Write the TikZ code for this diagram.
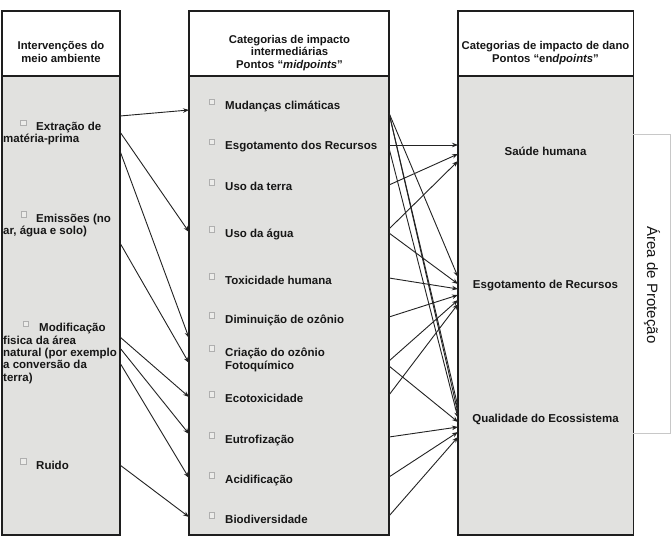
\documentclass[tikz,border=0pt]{standalone}
\usepackage{fontspec}
\setmainfont{Liberation Sans}
\usetikzlibrary{arrows.meta}
\definecolor{boxline}{RGB}{30,30,30}
\definecolor{bodyfill}{RGB}{225,225,223}
\definecolor{ink}{RGB}{22,22,22}
\definecolor{arrowc}{RGB}{35,35,35}
\definecolor{chkline}{RGB}{175,175,175}
\definecolor{chkfill}{RGB}{236,236,234}
\definecolor{areal}{RGB}{200,200,200}
\newcommand{\lstk}[1]{\begin{tabular}[t]{@{}l@{}}#1\end{tabular}}
\newcommand{\cstk}[1]{\begin{tabular}[t]{@{}c@{}}#1\end{tabular}}
\tikzset{
  hdr/.style={draw=boxline, line width=1.6pt, fill=white, anchor=north west, inner sep=0pt, outer sep=0pt},
  bdy/.style={draw=boxline, line width=1.6pt, fill=bodyfill, anchor=north west, inner sep=0pt, outer sep=0pt},
  htxt/.style={font=\fontsize{11.3}{12.4}\selectfont\bfseries, text=ink, inner sep=0pt, anchor=base},
  ltxt/.style={font=\fontsize{11.5}{12.4}\selectfont\bfseries, text=ink, inner sep=0pt, anchor=base west},
  mtxt/.style={font=\fontsize{11.5}{13}\selectfont\bfseries, text=ink, inner sep=0pt, anchor=base west},
  rtxt/.style={font=\fontsize{11.5}{13}\selectfont\bfseries, text=ink, inner sep=0pt, anchor=base},
  chk/.style={draw=chkline, fill=chkfill, line width=0.5pt},
  arr/.style={draw=arrowc, line width=0.9pt, -{Stealth[length=6pt,width=4.5pt]}},
  arealine/.style={draw=areal, line width=1pt}
}
\begin{document}
\begin{tikzpicture}[x=1pt,y=-1pt]
\useasboundingbox (0,0) rectangle (671,540);
\fill[white] (0,0) rectangle (671,540);

% boxes
\node[hdr, minimum width=118pt, minimum height=65pt] (lhead) at (2,11) {};
\node[bdy, minimum width=118pt, minimum height=459pt] (lbody) at (2,76) {};
\node[hdr, minimum width=200pt, minimum height=65pt] (mhead) at (189,11) {};
\node[bdy, minimum width=200pt, minimum height=459pt] (mbody) at (189,76) {};
\node[hdr, minimum width=175.5pt, minimum height=65pt] (rhead) at (458,11) {};
\node[bdy, minimum width=175.5pt, minimum height=459pt] (rbody) at (458,76) {};

% protection area frame
\draw[arealine] (633,135) -- (670,135) -- (670,433) -- (633,433);
\node[rotate=-90, font=\fontsize{15}{18}\selectfont, text=ink, inner sep=0pt] (area) at (652,285) {Área de Proteção};

% headers
\node[htxt] (lh) at (61,50) {\cstk{Intervenções do\\meio ambiente}};
\node[htxt] (mh) at (289.5,43.5) {\cstk{Categorias de impacto\\intermediárias\\Pontos “\textit{midpoints}”}};
\node[htxt] (rh) at (545.5,50) {\cstk{Categorias de impacto de dano\\Pontos “en\textit{dpoints}”}};

% left items
\draw[chk] (20.5,120) rectangle ++(5.5,5.5);
\node[ltxt] (l1) at (36,130.5) {Extração de};
\node[ltxt] (l1b) at (3,142.5) {matéria-prima};
\draw[chk] (21,211.5) rectangle ++(5.5,5.5);
\node[ltxt] (l2) at (36,222) {Emissões (no};
\node[ltxt] (l2b) at (3,234) {ar, água e solo)};
\draw[chk] (23,321) rectangle ++(5.5,5.5);
\node[ltxt] (l3) at (39,331.5) {Modificação};
\node[ltxt] (l3b) at (3,344) {\lstk{fisica da área\\natural (por exemplo\\a conversão da\\terra)}};
\draw[chk] (20.5,458.5) rectangle ++(5.5,5.5);
\node[ltxt] (l4) at (36,469) {Ruido};

% middle items
\foreach \y in {109.5,149.5,190,237,284,323,356,402,443,483,523}
  \draw[chk] (209,\y-10.5) rectangle ++(5.5,5.5);
\node[mtxt] (m1) at (225,109.5) {Mudanças climáticas};
\node[mtxt] (m2) at (225,149.5) {Esgotamento dos Recursos};
\node[mtxt] (m3) at (225,190) {Uso da terra};
\node[mtxt] (m4) at (225,237) {Uso da água};
\node[mtxt] (m5) at (225,284) {Toxicidade humana};
\node[mtxt] (m6) at (225,323) {Diminuição de ozônio};
\node[mtxt] (m7) at (225,356) {\lstk{Criação do ozônio\\Fotoquímico}};
\node[mtxt] (m8) at (225,402) {Ecotoxicidade};
\node[mtxt] (m9) at (225,443) {Eutrofização};
\node[mtxt] (m10) at (225,483) {Acidificação};
\node[mtxt] (m11) at (225,523) {Biodiversidade};

% right items
\node[rtxt] (r1) at (545.5,156) {Saúde humana};
\node[rtxt] (r2) at (545.5,288.5) {Esgotamento de Recursos};
\node[rtxt] (r3) at (545.5,422) {Qualidade do Ecossistema};

% connector end points on the box edges
\foreach \n/\y in {a/116,b/132,c/151,d/243,e/337,f/348,g/363,h/465}
  \coordinate (Lo\n) at (lbody.east |- 0,\y);
\foreach \n/\y in {a/110,b/232,c/338,d/363,e/397,f/434,g/478,h/517}
  \coordinate (Mi\n) at (mbody.west |- 0,\y);
\foreach \n/\y in {a/113,b/145,c/148,d/185,e/229,f/233,g/278,h/317,i/361,j/366,k/395,l/437,m/477,n/516}
  \coordinate (Mo\n) at (mbody.east |- 0,\y);
\foreach \n/\y in {a/145,b/154,c/161,d/277,e/284,f/289,g/295,h/300,i/304,j/407,k/413,l/418,m/422,n/427,o/432,p/437}
  \coordinate (Ri\n) at (rbody.west |- 0,\y);

% left -> middle
\draw[arr] (Loa) -- (Mia);
\draw[arr] (Lob) -- (Mib);
\draw[arr] (Loc) -- (Mic);
\draw[arr] (Lod) -- (Mid);
\draw[arr] (Loe) -- (Mie);
\draw[arr] (Lof) -- (Mif);
\draw[arr] (Log) -- (Mig);
\draw[arr] (Loh) -- (Mih);

% middle -> right
\draw[arr] (Mob) -- (Ria);
\draw[arr] (Mod) -- (Rib);
\draw[arr] (Moe) -- (Ric);
\draw[arr] (Moa) -- (Rid);
\draw[arr] (Mof) -- (Rie);
\draw[arr] (Mog) -- (Rif);
\draw[arr] (Moh) -- (Rig);
\draw[arr] (Moi) -- (Rih);
\draw[arr] (Mok) -- (Rii);
\draw[arr] (Moa) -- (Rij);
\draw[arr] (Moa) -- (Rik);
\draw[arr] (Moc) -- (Ril);
\draw[arr] (Moj) -- (Rim);
\draw[arr] (Mol) -- (Rin);
\draw[arr] (Mom) -- (Rio);
\draw[arr] (Mon) -- (Rip);
\end{tikzpicture}
\end{document}
